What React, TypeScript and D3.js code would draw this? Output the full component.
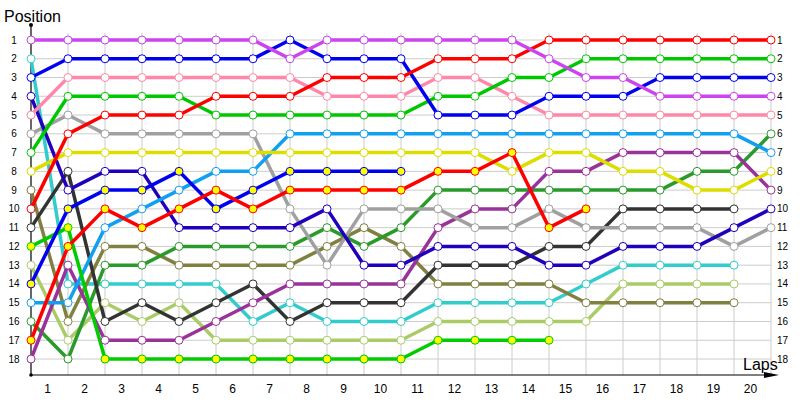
import React from 'react';
import * as d3 from 'd3';

const lapLabels = ['1','2','3','4','5','6','7','8','9','10','11','12','13','14','15','16','17','18','19','20'];
const positionLabels = ['1','2','3','4','5','6','7','8','9','10','11','12','13','14','15','16','17','18'];

type V = number | null;
const violet: V[] = [1,1,1,1,1,1,1,2,1,1,1,1,1,1,2,3,3,4,4,4,4];
const blue: V[] = [3,2,2,2,2,2,2,1,2,2,2,5,5,5,4,4,4,3,3,3,3];
const pink: V[] = [5,3,3,3,3,3,3,3,4,4,4,3,3,4,5,5,5,5,5,5,5];
const redA: V[] = [10,6,5,5,5,4,4,4,3,3,3,2,2,2,1,1,1,1,1,1,1];
const green: V[] = [7,4,4,4,4,5,5,5,5,5,5,4,4,3,3,2,2,2,2,2,2];
const gray: V[] = [6,5,6,6,6,6,6,10,13,10,10,10,11,11,10,11,11,11,11,12,11];
const lightBlue: V[] = [15,15,11,10,9,8,8,6,6,6,6,6,6,6,6,6,6,6,6,6,7];
const yellow: V[] = [8,7,7,7,7,7,7,7,7,7,7,7,7,8,7,7,8,8,9,9,8];
const navy: V[] = [4,9,8,8,11,11,11,11,10,13,13,12,12,12,13,13,12,12,12,11,10];
const blue2: V[] = [14,10,9,9,8,10,9,8,8,8,8,null,null,null,null,null,null,null,null,null,null];
const redB: V[] = [17,12,10,11,10,9,10,9,9,9,9,8,8,7,11,10,null,null,null,null,null];
const black: V[] = [11,8,16,15,16,15,14,16,15,15,15,13,13,13,12,12,10,10,10,10,null];
const olive: V[] = [9,16,12,12,13,13,13,13,12,11,12,14,14,14,14,15,15,15,15,15,null];
const darkGreen: V[] = [16,18,13,13,12,12,12,12,11,12,11,9,9,9,9,9,9,9,8,8,6];
const cyan: V[] = [2,14,14,14,14,14,16,15,16,16,16,15,15,15,15,14,13,13,13,13,null];
const lightGreen: V[] = [13,17,15,16,15,17,17,17,17,17,17,16,16,16,16,16,14,14,14,14,null];
const green2: V[] = [12,11,18,18,18,18,18,18,18,18,18,17,17,17,17,null,null,null,null,null,null];
const purple: V[] = [18,13,17,17,17,16,15,14,14,14,14,11,10,10,8,8,7,7,7,7,9];

const series = [
  { data: cyan, color: '#33cccc', filled: false },
  { data: lightGreen, color: '#aacc66', filled: false },
  { data: olive, color: '#808040', filled: false },
  { data: darkGreen, color: '#2a9a2a', filled: false },
  { data: black, color: '#333333', filled: false },
  { data: purple, color: '#993399', filled: false },
  { data: gray, color: '#a0a0a0', filled: false },
  { data: navy, color: '#2200bb', filled: false },
  { data: lightBlue, color: '#11a0f0', filled: false },
  { data: yellow, color: '#dddd00', filled: false },
  { data: green2, color: '#00cc00', filled: true },
  { data: blue2, color: '#0000f0', filled: true },
  { data: redB, color: '#ff0000', filled: true },
  { data: pink, color: '#ff88aa', filled: false },
  { data: green, color: '#00c800', filled: false },
  { data: blue, color: '#0000f0', filled: false },
  { data: redA, color: '#ff0000', filled: false },
  { data: violet, color: '#cc44ee', filled: false },
];

export default function App() {
  const x = d3.scaleLinear().domain([0, 20]).range([31, 771]);
  const y = d3.scaleLinear().domain([1, 18]).range([40, 359]);
  const line = d3.line<V>()
    .defined(d => d != null)
    .x((_, i) => x(i))
    .y(d => y(d as number));
  const font = '"Liberation Sans", Arial, sans-serif';
  return (
    <svg width={800} height={400} style={{ position: 'absolute', left: 0, top: 0, background: '#fff' }}>
      {/* grid */}
      {positionLabels.map((_, i) => (
        <line key={'h' + i} x1={x(0)} x2={x(20)} y1={y(i + 1)} y2={y(i + 1)} stroke="#cccccc" strokeWidth={1} />
      ))}
      {d3.range(1, 21).map(i => (
        <line key={'v' + i} x1={x(i)} x2={x(i)} y1={33} y2={375} stroke="#cccccc" strokeWidth={1} />
      ))}
      {/* axes */}
      <line x1={x(0)} x2={x(0)} y1={25} y2={375} stroke="#000" strokeWidth={1.2} />
      <circle cx={x(0)} cy={25} r={2} fill="#000" />
      <circle cx={x(0)} cy={375} r={1.8} fill="#000" />
      <line x1={x(0)} x2={770} y1={375} y2={375} stroke="#000" strokeWidth={1.2} />
      <polygon points="779,375 764,372 764,378" fill="#000" />
      {/* labels */}
      <text x={4} y={22} fontFamily={font} fontSize={16} fill="#000">Position</text>
      <text x={743} y={370} fontFamily={font} fontSize={16} fill="#000">Laps</text>
      {positionLabels.map((t, i) => (
        <text key={'yl' + i} x={14} y={y(i + 1)} dy="0.35em" textAnchor="middle" fontFamily={font} fontSize={10} fill="#000">{t}</text>
      ))}
      {positionLabels.map((t, i) => (
        <text key={'yr' + i} x={777} y={y(i + 1)} dy="0.35em" textAnchor="start" fontFamily={font} fontSize={10} fill="#000">{t}</text>
      ))}
      {lapLabels.map((t, i) => (
        <text key={'xl' + i} x={(x(i) + x(i + 1)) / 2 - 2} y={393} textAnchor="middle" fontFamily={font} fontSize={12} fill="#000">{t}</text>
      ))}
      {/* lines */}
      {series.map((s, k) => (
        <path key={'l' + k} d={line(s.data) || ''} fill="none" stroke={s.color} strokeWidth={3.5} strokeLinejoin="round" />
      ))}
      {/* markers */}
      {series.map((s, k) => (
        <g key={'m' + k}>
          {s.data.map((d, i) => d == null ? null : (
            <circle key={i} cx={x(i)} cy={y(d)} r={4} fill={s.filled ? '#ffff00' : '#ffffff'} stroke={s.color} strokeWidth={1} />
          ))}
        </g>
      ))}
    </svg>
  );
}
